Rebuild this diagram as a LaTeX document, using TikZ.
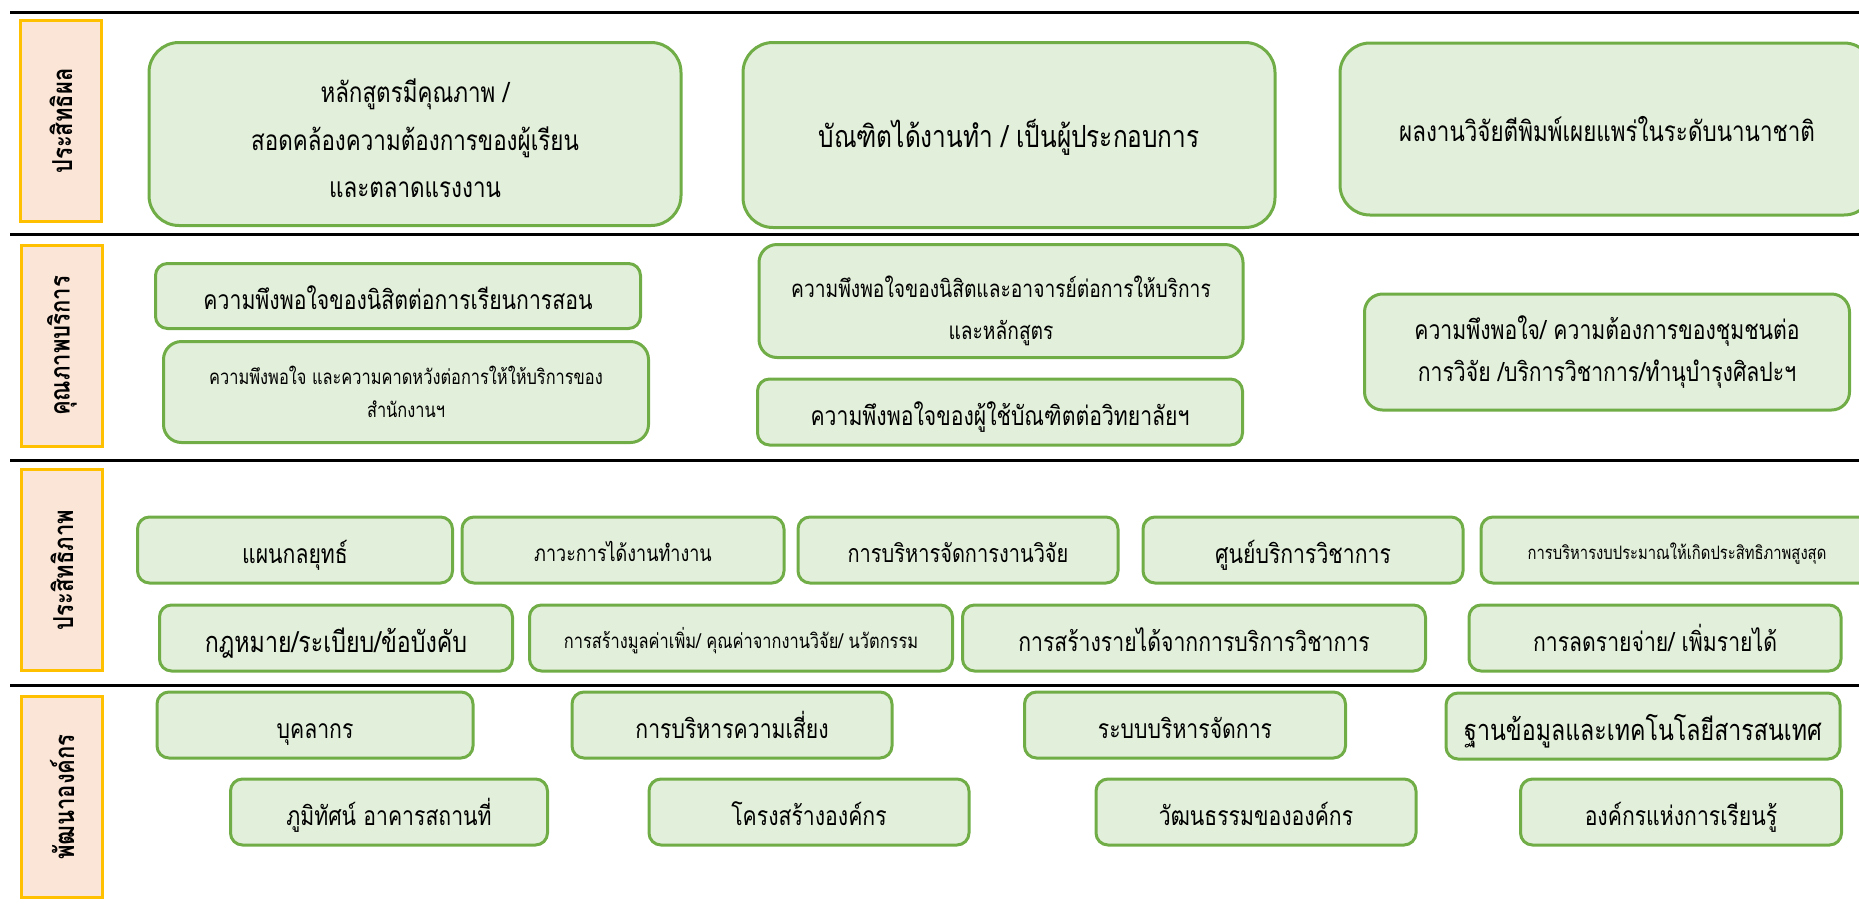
\documentclass[tikz,border=0pt]{standalone}
\usepackage{fontspec}
\newfontfamily\thaifont[Script=Thai,FakeStretch=0.8]{Loma}
\definecolor{lanefill}{HTML}{FBE5D6}
\definecolor{laneline}{HTML}{FFC000}
\definecolor{boxfill}{HTML}{E2EFDA}
\definecolor{boxline}{HTML}{70AD47}
\newcommand\tstrut{\rule[-0.5em]{0pt}{2em}}
\begin{document}
\begin{tikzpicture}[x=1pt,y=-1pt,
  lane/.style={draw=laneline,fill=lanefill,line width=3pt,rotate=90,
    minimum width=201pt,minimum height=81pt,inner sep=0pt,
    font=\thaifont\bfseries\fontsize{27.5}{30}\selectfont},
  goal/.style={draw=boxline,fill=boxfill,line width=3pt,rounded corners=12pt,
    align=center,inner sep=0pt,
    execute at begin node=\tstrut,execute at end node=\tstrut},
  wh/.style 2 args={minimum width=#1pt,minimum height=#2pt},
  lift/.style={text height=#1pt,text depth=0pt},
  huge/.style={font=\thaifont\fontsize{28}{47.5}\selectfont},
  big/.style={font=\thaifont\fontsize{26.5}{41.5}\selectfont},
  bigger/.style={font=\thaifont\fontsize{29}{41.5}\selectfont},
  mid/.style={font=\thaifont\fontsize{24}{41.5}\selectfont},
  small/.style={font=\thaifont\fontsize{20.5}{33}\selectfont},
  sep/.style={line width=3pt}]
\useasboundingbox (0,0) rectangle (1859,903);
\clip (0,0) rectangle (1859,903);

% separators
\draw[sep] (10,12) -- (1859,12);
\draw[sep] (10,234) -- (1859,234);
\draw[sep] (10,460) -- (1859,460);
\draw[sep] (10,685) -- (1859,685);

% ประสิทธิผล
\node[lane] (lane1) at (61,121) {ประสิทธิผล};
\node[goal,huge,wh={532}{183},rounded corners=30pt,lift=127] (curri) at (415,134) {หลักสูตรมีคุณภาพ /\\สอดคล้องความต้องการของผู้เรียน\\และตลาดแรงงาน};
\node[goal,huge,wh={532}{185},rounded corners=30pt,lift=24,font=\thaifont\fontsize{30.5}{48}\selectfont] (grad) at (1009,135) {บัณฑิตได้งานทำ / เป็นผู้ประกอบการ};
\node[goal,huge,wh={534}{172},rounded corners=30pt,lift=24] (pub) at (1607,129) {ผลงานวิจัยตีพิมพ์เผยแพร่ในระดับนานาชาติ};

% คุณภาพบริการ
\node[lane] (lane2) at (62,346) {คุณภาพบริการ};
\node[goal,big,wh={485}{65}] (teach) at (398,296) {ความพึงพอใจของนิสิตต่อการเรียนการสอน};
\node[goal,small,wh={485}{101},rounded corners=18pt,lift=50] (office) at (406,392) {ความพึงพอใจ และความคาดหวังต่อการให้ให้บริการของ\\สำนักงานฯ};
\node[goal,mid,wh={484}{113},rounded corners=18pt,lift=76] (staff) at (1001,301) {ความพึงพอใจของนิสิตและอาจารย์ต่อการให้บริการ\\และหลักสูตร};
\node[goal,big,wh={485}{66}] (user) at (1000,412) {ความพึงพอใจของผู้ใช้บัณฑิตต่อวิทยาลัยฯ};
\node[goal,big,wh={485}{116},rounded corners=18pt,lift=58] (comm) at (1607,352) {ความพึงพอใจ/ ความต้องการของชุมชนต่อ\\การวิจัย /บริการวิชาการ/ทำนุบำรุงศิลปะฯ};

% ประสิทธิภาพ
\node[lane] (lane3) at (62,570) {ประสิทธิภาพ};
\node[goal,big,wh={315}{66}] (plan) at (295,550) {แผนกลยุทธ์};
\node[goal,mid,wh={322}{66},font=\thaifont\fontsize{22.5}{40}\selectfont] (job) at (623,550) {ภาวะการได้งานทำงาน};
\node[goal,big,wh={320}{66},font=\thaifont\fontsize{25}{40}\selectfont] (research) at (958,550) {การบริหารจัดการงานวิจัย};
\node[goal,big,wh={320}{66}] (center) at (1303,550) {ศูนย์บริการวิชาการ};
\node[goal,small,wh={392}{66},font=\thaifont\fontsize{18.5}{38}\selectfont] (budget) at (1677,550) {การบริหารงบประมาณให้เกิดประสิทธิภาพสูงสุด};
\node[goal,bigger,wh={353}{66}] (law) at (336,638) {กฎหมาย/ระเบียบ/ข้อบังคับ};
\node[goal,small,wh={423}{66}] (value) at (741,638) {การสร้างมูลค่าเพิ่ม/ คุณค่าจากงานวิจัย/ นวัตกรรม};
\node[goal,big,wh={463}{66}] (income) at (1194,638) {การสร้างรายได้จากการบริการวิชาการ};
\node[goal,big,wh={372}{66}] (cost) at (1655,638) {การลดรายจ่าย/ เพิ่มรายได้};

% พัฒนาองค์กร
\node[lane] (lane4) at (62,797) {พัฒนาองค์กร};
\node[goal,big,wh={316}{66}] (people) at (315,725) {บุคลากร};
\node[goal,big,wh={320}{66}] (risk) at (732,725) {การบริหารความเสี่ยง};
\node[goal,big,wh={321}{66}] (admin) at (1185,725) {ระบบบริหารจัดการ};
\node[goal,bigger,wh={394}{66}] (it) at (1643,726) {ฐานข้อมูลและเทคโนโลยีสารสนเทศ};
\node[goal,big,wh={317}{66}] (site) at (389,812) {ภูมิทัศน์ อาคารสถานที่};
\node[goal,big,wh={320}{66}] (struct) at (809,812) {โครงสร้างองค์กร};
\node[goal,big,wh={320}{66}] (culture) at (1256,812) {วัฒนธรรมขององค์กร};
\node[goal,big,wh={321}{66}] (learn) at (1681,812) {องค์กรแห่งการเรียนรู้};
\end{tikzpicture}
\end{document}
